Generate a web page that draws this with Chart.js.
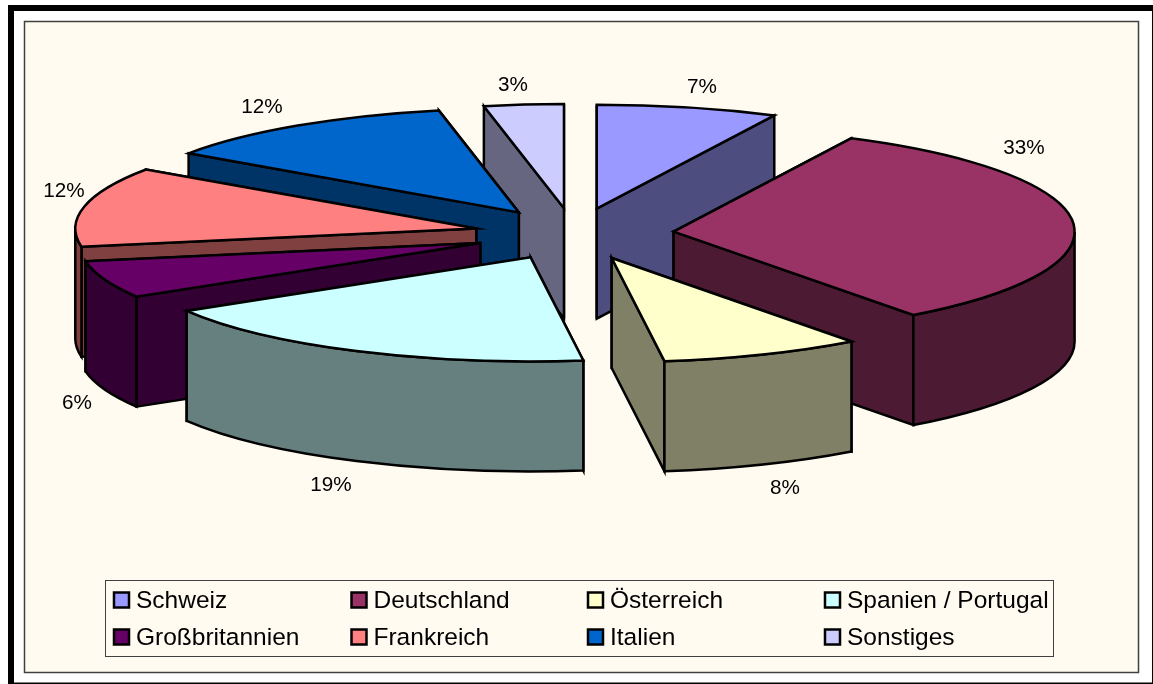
<!DOCTYPE html>
<html>
<head>
<meta charset="utf-8">
<style>html,body{margin:0;padding:0;background:#fff}canvas{display:block}</style>
<script src="https://cdn.jsdelivr.net/npm/chart.js@4"></script>
</head>
<body>
<canvas id="c" width="1153" height="684"></canvas>
<script>
const categories = ['Schweiz','Deutschland','Österreich','Spanien / Portugal','Großbritannien','Frankreich','Italien','Sonstiges'];
const shares = [7.3,32.5,8.1,18.5,5.8,12.4,12.2,3.2];
const topColors = ['#9999FF','#993366','#FFFFCC','#CCFFFF','#660066','#FF8080','#0066CC','#CCCCFF'];
const wallColors = ['#4D4D80','#4D1A33','#808066','#668080','#330033','#804040','#003366','#666680'];

const TILT = 0.2595, DEPTH = 110, EXPLODE = 100;
const FONT = '"Liberation Sans", Arial, sans-serif';
const labelCentres = [[702,87],[1024,148],[785,488],[331,485],[77,403],[64,191],[262,107],[513,85]];
const legendCols = [113,350.5,587,824], legendRows = [600,637];

function frame(ctx){
  ctx.fillStyle='#fff';ctx.fillRect(0,0,1153,684);
  ctx.fillStyle='#000';
  ctx.fillRect(8,5,1145,6);ctx.fillRect(8,5,6,679);
  ctx.fillRect(8,682.5,1145,1.5);ctx.fillRect(1152,5,1,679);
  ctx.fillStyle='#FFFBF0';ctx.fillRect(24.5,21.5,1114,651);
  ctx.strokeStyle='#404040';ctx.lineWidth=1.5;ctx.strokeRect(24.5,21.5,1114,651);
}
function drawSlice(ctx,arc,i){
  const a0=arc.startAngle,a1=arc.endAngle,mid=(a0+a1)/2,R=arc.outerRadius;
  const x=arc.x+Math.cos(mid)*EXPLODE, y=arc.y+Math.sin(mid)*EXPLODE*TILT, ry=R*TILT;
  const px=t=>x+R*Math.cos(t), py=t=>y+ry*Math.sin(t);
  ctx.lineWidth=2.5;ctx.strokeStyle='#000';ctx.lineJoin='miter';
  const paint=c=>{ctx.fillStyle=c;ctx.fill();ctx.stroke();};
  // radial walls, the rear one first
  const walls=[a0,a1].sort((p,q)=>py(p)-py(q));
  walls.forEach(t=>{
    ctx.beginPath();ctx.moveTo(x,y);ctx.lineTo(px(t),py(t));
    ctx.lineTo(px(t),py(t)+DEPTH);ctx.lineTo(x,y+DEPTH);ctx.closePath();
    paint(wallColors[i]);
  });
  // outer wall: only the part turned towards the viewer (0..PI on the canvas angle circle)
  const segs=[[a0,a1],[a0-2*Math.PI,a1-2*Math.PI],[a0+2*Math.PI,a1+2*Math.PI]];
  segs.forEach(([s,e])=>{
    const b0=Math.max(s,0),b1=Math.min(e,Math.PI);
    if(b1<=b0)return;
    ctx.beginPath();ctx.ellipse(x,y,R,ry,0,b0,b1);
    ctx.lineTo(px(b1),py(b1)+DEPTH);
    ctx.ellipse(x,y+DEPTH,R,ry,0,b1,b0,true);ctx.closePath();
    paint(wallColors[i]);
  });
  ctx.beginPath();ctx.moveTo(x,y);ctx.ellipse(x,y,R,ry,0,a0,a1);ctx.closePath();
  paint(topColors[i]);
}
const pie3d={
  id:'pie3d',
  beforeDraw(chart){frame(chart.ctx);},
  beforeDatasetDraw(chart,args){
    const ctx=chart.ctx, arcs=chart.getDatasetMeta(args.index).data;
    const order=arcs.map((a,i)=>i).sort((p,q)=>{
      const m=a=>Math.sin((a.startAngle+a.endAngle)/2);
      return m(arcs[p])-m(arcs[q]);
    });
    order.forEach(i=>drawSlice(ctx,arcs[i],i));
    return false;
  },
  afterDraw(chart){
    const ctx=chart.ctx, vals=chart.data.datasets[0].data;
    ctx.textAlign='center';ctx.textBaseline='middle';ctx.fillStyle='#000';
    ctx.font='20.7px '+FONT;
    vals.forEach((v,i)=>ctx.fillText(Math.round(v)+'%',labelCentres[i][0],labelCentres[i][1]));
    // legend
    ctx.fillStyle='#FFFBF0';ctx.fillRect(105.5,580.5,948,76);
    ctx.strokeStyle='#404040';ctx.lineWidth=1;ctx.strokeRect(105.5,580.5,948,76);
    ctx.textAlign='left';ctx.font='24.5px '+FONT;
    chart.data.labels.forEach((t,i)=>{
      const lx=legendCols[i%4], ly=legendRows[Math.floor(i/4)];
      ctx.fillStyle=topColors[i];ctx.fillRect(lx+1,ly-7.5,15,15);
      ctx.strokeStyle='#000';ctx.lineWidth=2.5;ctx.strokeRect(lx+1,ly-7.5,15,15);
      ctx.fillStyle='#000';ctx.fillText(t,lx+23,ly+1);
    });
  }
};
new Chart(document.getElementById('c'),{
  type:'pie',
  data:{labels:categories,datasets:[{data:shares,backgroundColor:topColors,borderColor:'#000',borderWidth:2}]},
  options:{
    responsive:false,animation:false,radius:401,
    layout:{padding:{left:0,right:5,top:0,bottom:216}},
    plugins:{legend:{display:false},tooltip:{enabled:false},title:{display:false}}
  },
  plugins:[pie3d]
});
</script>
</body>
</html>
